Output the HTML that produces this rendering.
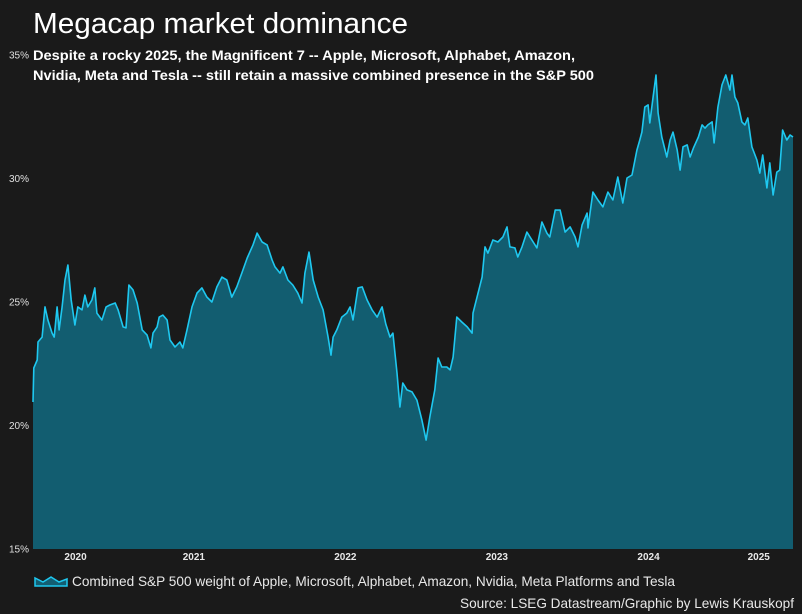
<!DOCTYPE html>
<html><head><meta charset="utf-8">
<style>
html,body{margin:0;padding:0;background:#1a1a1a;}
svg{display:block;font-family:"Liberation Sans",Arial,sans-serif;}
</style></head>
<body>
<svg id="chart" width="802" height="614" viewBox="0 0 802 614" xmlns="http://www.w3.org/2000/svg">
<rect width="802" height="614" fill="#1a1a1a"/>
<text x="33" y="33" fill="#ffffff" font-size="29" textLength="375" lengthAdjust="spacingAndGlyphs">Megacap market dominance</text>
<text x="33" y="60" fill="#ffffff" font-size="14" font-weight="bold" textLength="542" lengthAdjust="spacingAndGlyphs">Despite a rocky 2025, the Magnificent 7 -- Apple, Microsoft, Alphabet, Amazon,</text>
<text x="33" y="80" fill="#ffffff" font-size="14" font-weight="bold" textLength="561" lengthAdjust="spacingAndGlyphs">Nvidia, Meta and Tesla -- still retain a massive combined presence in the S&amp;P 500</text>
<g id="plot"></g>
<g id="yaxis"></g>
<g id="xaxis"></g>
<g>
<path d="M35,584 L35,578 L43,582 L51,577 L59,582 L67,579 L67,586 L35,586 Z" fill="#135e72" stroke="#1ec8f0" stroke-width="1.5"/>
<text x="72" y="586" fill="#e8e8e8" font-size="14" textLength="603" lengthAdjust="spacingAndGlyphs">Combined S&amp;P 500 weight of Apple, Microsoft, Alphabet, Amazon, Nvidia, Meta Platforms and Tesla</text>
</g>
<text x="794" y="608" text-anchor="end" fill="#e8e8e8" font-size="14" textLength="334" lengthAdjust="spacingAndGlyphs">Source: LSEG Datastream/Graphic by Lewis Krauskopf</text>
</svg>
<script>
// days since 2020-01-01
const days = [161,163,171,173,183,190,197,207,212,219,224,231,238,245,253,262,269,279,286,293,303,310,315,327,337,346,359,366,378,385,392,402,412,424,436,445,450,460,465,474,484,491,503,515,522,532,544,556,568,580,592,604,616,628,640,652,664,677,691,701,713,725,737,744,756,763,775,787,799,809,816,826,836,848,860,872,879,884,893,905,917,925,932,944,954,966,978,990,1002,1011,1021,1028,1038,1045,1052,1062,1074,1086,1098,1108,1117,1129,1137,1146,1158,1166,1173,1182,1194,1207,1219,1221,1243,1250,1257,1269,1281,1293,1303,1310,1322,1329,1339,1351,1363,1375,1387,1399,1406,1419,1431,1443,1455,1467,1474,1484,1496,1498,1510,1522,1534,1546,1558,1570,1582,1592,1604,1616,1623,1628,1635,1643,1647,1655,1662,1667,1676,1688,1696,1703,1713,1720,1727,1737,1744,1752,1764,1773,1780,1787,1797,1802,1811,1821,1830,1840,1845,1852,1859,1869,1876,1883,1893,1905,1912,1919,1929,1936,1944,1953,1960,1967,1977,1985,1992];
// combined weight, %
const weights = [20.95,22.33,22.65,23.38,23.58,24.80,24.27,23.74,23.58,24.80,23.87,24.80,25.89,26.50,25.08,24.07,24.80,24.68,25.28,24.80,25.08,25.57,24.55,24.27,24.80,24.88,24.96,24.68,23.99,23.95,25.69,25.49,24.96,23.87,23.66,23.14,23.74,23.99,24.39,24.47,24.27,23.46,23.18,23.38,23.14,23.87,24.80,25.36,25.57,25.20,25.00,25.61,26.01,25.89,25.20,25.61,26.17,26.78,27.31,27.79,27.43,27.31,26.70,26.42,26.17,26.42,25.89,25.69,25.36,24.96,26.17,27.02,25.89,25.20,24.68,23.58,22.85,23.58,23.87,24.39,24.55,24.80,24.27,25.57,25.61,25.08,24.68,24.39,24.80,24.11,23.58,23.74,22.13,20.75,21.72,21.44,21.36,21.03,20.22,19.41,20.34,21.44,22.73,22.37,22.37,22.25,22.77,24.39,24.19,23.99,23.74,24.55,26.01,27.23,26.98,27.51,27.43,27.63,28.04,27.23,27.19,26.82,27.23,27.83,27.51,27.19,28.24,27.79,27.63,28.72,28.72,27.83,28.04,27.63,27.23,28.12,28.60,28.00,29.45,29.13,28.85,29.45,29.13,30.06,29.01,30.02,30.14,31.15,31.56,31.88,32.89,32.98,32.25,33.30,34.19,32.65,31.68,30.87,31.56,31.88,31.15,30.34,31.28,31.36,30.87,31.23,31.68,32.17,32.04,32.17,32.29,31.44,32.89,33.79,34.19,33.58,34.19,33.30,33.06,32.29,32.17,32.45,31.28,30.75,30.22,30.95,29.62,30.63,29.33,30.26,30.34,31.96,31.56,31.76,31.68];
const yTicks = [15,20,25,30,35];
const yTickLabels = ["15%","20%","25%","30%","35%"];
const yearLabels = ["2020","2021","2022","2023","2024","2025"];
const yearStarts = [0,366,731,1096,1461,1827];

const NS = "http://www.w3.org/2000/svg";
const X0 = 33, X1 = 793, Y0 = 549, Y1 = 55;
const dMin = days[0], dMax = days[days.length-1];
function xScale(d){ return X0 + (d - dMin) / (dMax - dMin) * (X1 - X0); }
function yScale(v){ return Y0 - (v - 15) / 20 * (Y0 - Y1); }

const plot = document.getElementById('plot');
let line = "";
days.forEach((d,i)=>{ line += (i? "L":"M") + xScale(d).toFixed(1) + "," + yScale(weights[i]).toFixed(1); });
const area = document.createElementNS(NS,'path');
area.setAttribute('d', line + "L" + xScale(dMax).toFixed(1) + "," + Y0 + "L" + xScale(dMin).toFixed(1) + "," + Y0 + "Z");
area.setAttribute('fill','#125d70');


plot.appendChild(area);
const path = document.createElementNS(NS,'path');
path.setAttribute('d', line);
path.setAttribute('fill','none');
path.setAttribute('stroke','#1ec8f0');
path.setAttribute('stroke-width','1.6');
path.setAttribute('stroke-linejoin','round');


plot.appendChild(path);

const yaxis = document.getElementById('yaxis');
yTicks.forEach((t,i)=>{
  const tx = document.createElementNS(NS,'text');
  tx.setAttribute('x', 29);
  tx.setAttribute('y', yScale(t) + 3.5);
  tx.setAttribute('text-anchor','end');
  tx.setAttribute('fill','#e0e0e0');
  tx.setAttribute('font-size','10');
  tx.textContent = yTickLabels[i];
  
  
  yaxis.appendChild(tx);
});

const xaxis = document.getElementById('xaxis');
yearLabels.forEach((lab,i)=>{
  const s = Math.max(yearStarts[i], dMin);
  const e = i+1 < yearStarts.length ? Math.min(yearStarts[i+1], dMax) : dMax;
  const tx = document.createElementNS(NS,'text');
  tx.setAttribute('x', xScale((s+e)/2));
  tx.setAttribute('y', 560);
  tx.setAttribute('text-anchor','middle');
  tx.setAttribute('fill','#e8e8e8');
  tx.setAttribute('font-size','10');
  tx.setAttribute('font-weight','bold');
  tx.textContent = lab;
  
  
  xaxis.appendChild(tx);
});
</script>
</body></html>
